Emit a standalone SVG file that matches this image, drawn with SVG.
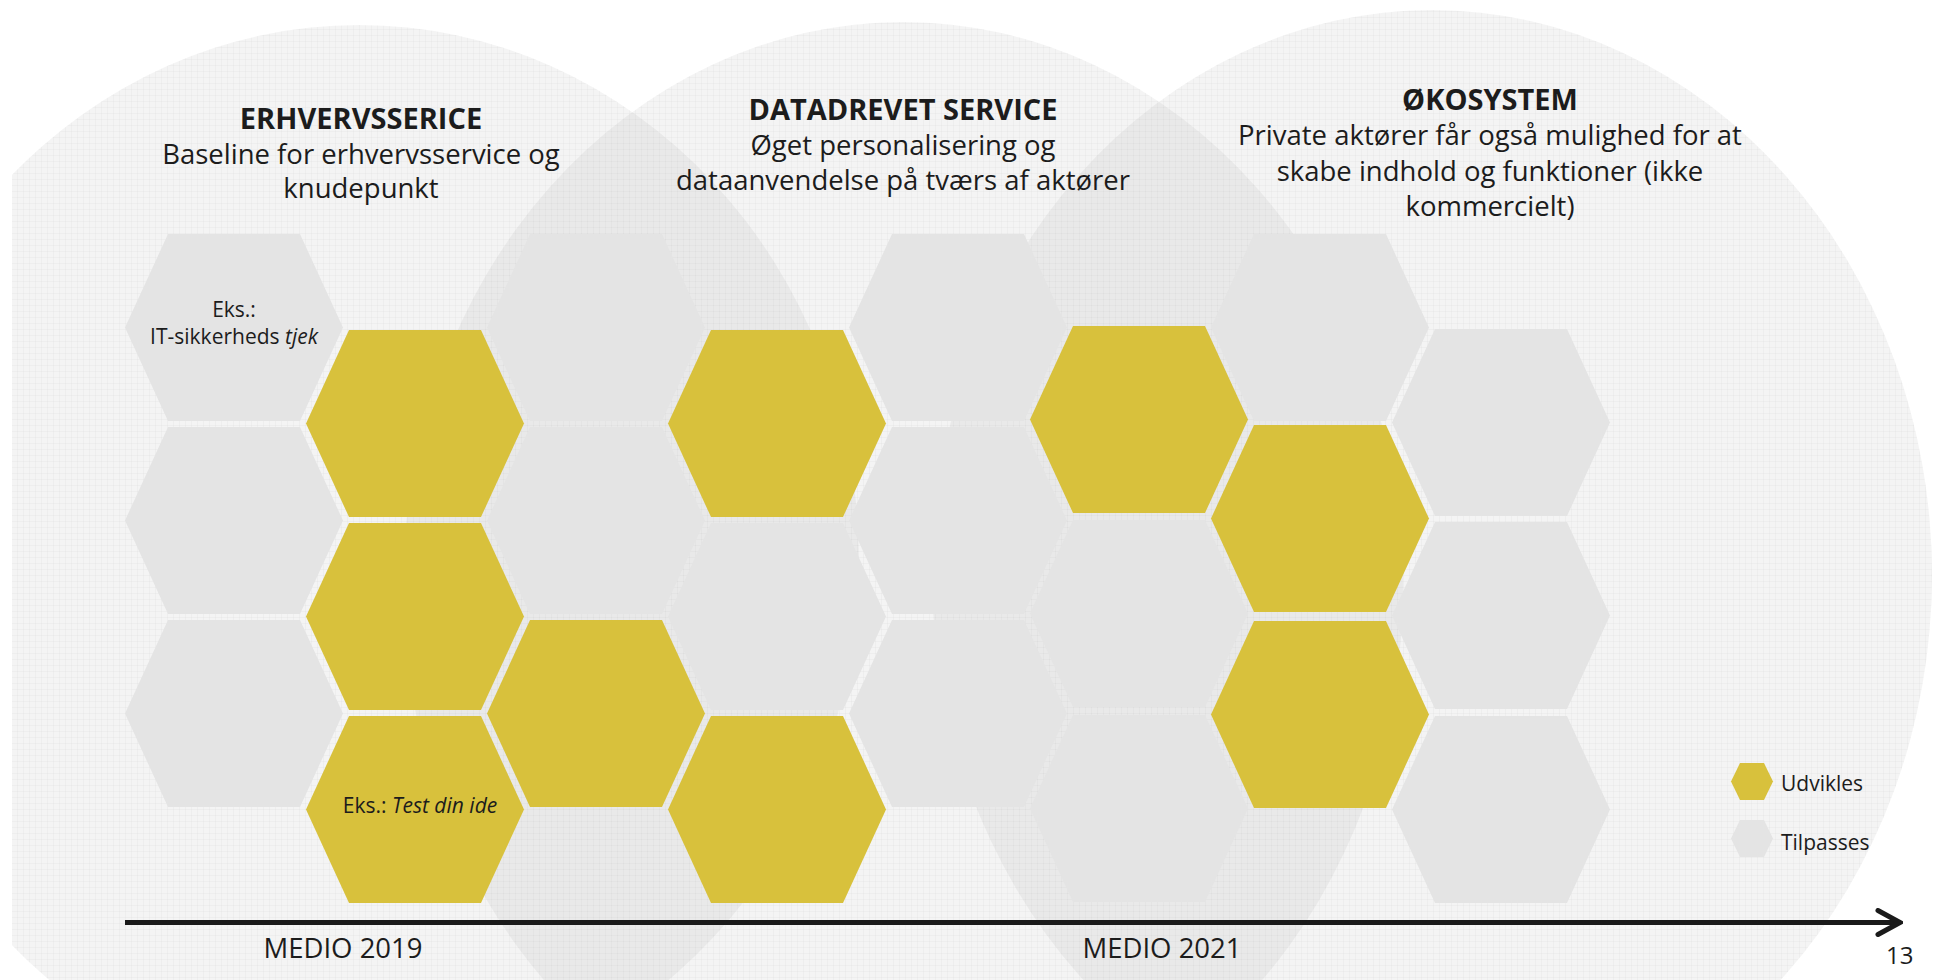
<svg xmlns="http://www.w3.org/2000/svg" xmlns:xlink="http://www.w3.org/1999/xlink" width="1939" height="980" viewBox="0 0 1939 980">
  <style>
    text { font-family: "Open Sans", "Noto Sans", "Liberation Sans", sans-serif; fill: #1c1c1c; }
    .title { font-size: 29px; font-weight: 700; text-anchor: middle; }
    .sub { font-size: 27.5px; text-anchor: middle; }
    .lbl { font-size: 21px; text-anchor: middle; }
    .leg { font-size: 21px; }
    .axis-lbl { font-size: 27.5px; text-anchor: middle; }
    .y { fill: #D8C13C; }
    .g { fill: #E4E4E4; }
    .bubble { fill: #000000; fill-opacity: 0.045; }
    .axis { stroke: #1a1a1a; stroke-width: 5; fill: none; }
  </style>
  <defs>
    <polygon id="hex" points="43,0 175,0 218,93.5 175,187 43,187 0,93.5"/>
    <polygon id="hex-s" points="9,0 33,0 42,18.5 33,37 9,37 0,18.5"/>
    <clipPath id="page">
      <rect x="12" y="0" width="1927" height="980"/>
    </clipPath>
    <clipPath id="bubbles">
      <ellipse cx="359" cy="560" rx="500" ry="535"/>
      <ellipse cx="903" cy="587" rx="500" ry="565"/>
      <ellipse cx="1432" cy="575" rx="500" ry="565"/>
    </clipPath>
    <pattern id="grid" width="6" height="6" patternUnits="userSpaceOnUse">
      <path d="M0 5.5 H6 M5.5 0 V6" stroke="#000" stroke-opacity="0.025" stroke-width="1" fill="none"/>
    </pattern>
    <marker id="chev" viewBox="0 0 28 30" refX="25" refY="15" markerWidth="28" markerHeight="30" markerUnits="userSpaceOnUse" orient="auto">
      <path d="M3 3 L25 15 L3 27" fill="none" stroke="#1a1a1a" stroke-width="5" stroke-linecap="round" stroke-linejoin="miter"/>
    </marker>
  </defs>

  <rect x="0" y="0" width="1939" height="980" fill="#ffffff"/>

  <!-- background bubbles -->
  <g id="bubbles-bg" clip-path="url(#page)">
    <ellipse class="bubble" cx="359" cy="560" rx="500" ry="535"/>
    <ellipse class="bubble" cx="903" cy="587" rx="500" ry="565"/>
    <ellipse class="bubble" cx="1432" cy="575" rx="500" ry="565"/>
    <rect x="0" y="0" width="1939" height="980" fill="url(#grid)" clip-path="url(#bubbles)"/>
  </g>

  <!-- phase headings -->
  <g id="phase-1">
    <text class="title" x="361" y="129">ERHVERVSSERICE</text>
    <text class="sub" x="361" y="164">Baseline for erhvervsservice og</text>
    <text class="sub" x="361" y="198">knudepunkt</text>
  </g>
  <g id="phase-2">
    <text class="title" x="903" y="120">DATADREVET SERVICE</text>
    <text class="sub" x="903" y="155">Øget personalisering og</text>
    <text class="sub" x="903" y="190">dataanvendelse på tværs af aktører</text>
  </g>
  <g id="phase-3">
    <text class="title" x="1490" y="110">ØKOSYSTEM</text>
    <text class="sub" x="1490" y="145">Private aktører får også mulighed for at</text>
    <text class="sub" x="1490" y="181">skabe indhold og funktioner (ikke</text>
    <text class="sub" x="1490" y="216">kommercielt)</text>
  </g>

  <!-- honeycomb -->
  <g id="hex-A1"><use href="#hex" class="g" x="125" y="234"/>
    <text class="lbl" x="234" y="317">Eks.:</text>
    <text class="lbl" x="234" y="344">IT-sikkerheds <tspan font-style="italic">tjek</tspan></text>
  </g>
  <g id="hex-A2"><use href="#hex" class="g" x="125" y="427"/></g>
  <g id="hex-A3"><use href="#hex" class="g" x="125" y="620"/></g>

  <g id="hex-B1"><use href="#hex" class="y" x="306" y="330"/></g>
  <g id="hex-B2"><use href="#hex" class="y" x="306" y="523"/></g>
  <g id="hex-B3"><use href="#hex" class="y" x="306" y="716"/>
    <text class="lbl" x="420" y="813">Eks.: <tspan font-style="italic">Test din ide</tspan></text>
  </g>

  <g id="hex-C1"><use href="#hex" class="g" x="487" y="234"/></g>
  <g id="hex-C2"><use href="#hex" class="g" x="487" y="427"/></g>
  <g id="hex-C3"><use href="#hex" class="y" x="487" y="620"/></g>

  <g id="hex-D1"><use href="#hex" class="y" x="668" y="330"/></g>
  <g id="hex-D2"><use href="#hex" class="g" x="668" y="523"/></g>
  <g id="hex-D3"><use href="#hex" class="y" x="668" y="716"/></g>

  <g id="hex-E1"><use href="#hex" class="g" x="849" y="234"/></g>
  <g id="hex-E2"><use href="#hex" class="g" x="849" y="427"/></g>
  <g id="hex-E3"><use href="#hex" class="g" x="849" y="620"/></g>

  <g id="hex-F1"><use href="#hex" class="y" x="1030" y="326"/></g>
  <g id="hex-F2"><use href="#hex" class="g" x="1030" y="520"/></g>
  <g id="hex-F3"><use href="#hex" class="g" x="1030" y="715"/></g>

  <g id="hex-G1"><use href="#hex" class="g" x="1211" y="234"/></g>
  <g id="hex-G2"><use href="#hex" class="y" x="1211" y="425"/></g>
  <g id="hex-G3"><use href="#hex" class="y" x="1211" y="621"/></g>

  <g id="hex-H1"><use href="#hex" class="g" x="1392" y="329"/></g>
  <g id="hex-H2"><use href="#hex" class="g" x="1392" y="522"/></g>
  <g id="hex-H3"><use href="#hex" class="g" x="1392" y="716"/></g>

  <!-- legend -->
  <g id="legend-udvikles">
    <use href="#hex-s" class="y" x="1731" y="763"/>
    <text class="leg" x="1781" y="791">Udvikles</text>
  </g>
  <g id="legend-tilpasses">
    <use href="#hex-s" class="g" x="1731" y="820"/>
    <text class="leg" x="1781" y="850">Tilpasses</text>
  </g>

  <!-- timeline -->
  <g id="connectors">
    <line class="axis" x1="125" y1="922.5" x2="1900" y2="922.5" marker-end="url(#chev)"/>
  </g>
  <g id="axis-labels">
    <text class="axis-lbl" x="343" y="958">MEDIO 2019</text>
    <text class="axis-lbl" x="1162" y="958">MEDIO 2021</text>
    <text x="1886" y="964" font-size="24">13</text>
  </g>
</svg>
